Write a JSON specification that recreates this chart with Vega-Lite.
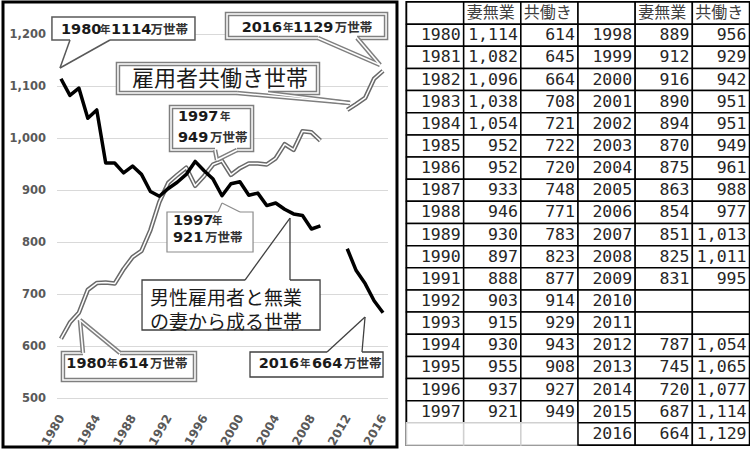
{
  "$schema": "https://vega.github.io/schema/vega-lite/v6.json",
  "padding": {"left": 1.5, "top": 0, "right": 0, "bottom": 0},
  "spacing": 6,
  "background": "white",
  "config": {
    "view": {"stroke": null}
  },
  "datasets": {
    "households": [
      {"year": 1980, "wife_home": 1114, "dual": 614},
      {"year": 1981, "wife_home": 1082, "dual": 645},
      {"year": 1982, "wife_home": 1096, "dual": 664},
      {"year": 1983, "wife_home": 1038, "dual": 708},
      {"year": 1984, "wife_home": 1054, "dual": 721},
      {"year": 1985, "wife_home": 952, "dual": 722},
      {"year": 1986, "wife_home": 952, "dual": 720},
      {"year": 1987, "wife_home": 933, "dual": 748},
      {"year": 1988, "wife_home": 946, "dual": 771},
      {"year": 1989, "wife_home": 930, "dual": 783},
      {"year": 1990, "wife_home": 897, "dual": 823},
      {"year": 1991, "wife_home": 888, "dual": 877},
      {"year": 1992, "wife_home": 903, "dual": 914},
      {"year": 1993, "wife_home": 915, "dual": 929},
      {"year": 1994, "wife_home": 930, "dual": 943},
      {"year": 1995, "wife_home": 955, "dual": 908},
      {"year": 1996, "wife_home": 937, "dual": 927},
      {"year": 1997, "wife_home": 921, "dual": 949},
      {"year": 1998, "wife_home": 889, "dual": 956},
      {"year": 1999, "wife_home": 912, "dual": 929},
      {"year": 2000, "wife_home": 916, "dual": 942},
      {"year": 2001, "wife_home": 890, "dual": 951},
      {"year": 2002, "wife_home": 894, "dual": 951},
      {"year": 2003, "wife_home": 870, "dual": 949},
      {"year": 2004, "wife_home": 875, "dual": 961},
      {"year": 2005, "wife_home": 863, "dual": 988},
      {"year": 2006, "wife_home": 854, "dual": 977},
      {"year": 2007, "wife_home": 851, "dual": 1013},
      {"year": 2008, "wife_home": 825, "dual": 1011},
      {"year": 2009, "wife_home": 831, "dual": 995},
      {"year": 2010, "wife_home": null, "dual": null},
      {"year": 2011, "wife_home": null, "dual": null},
      {"year": 2012, "wife_home": 787, "dual": 1054},
      {"year": 2013, "wife_home": 745, "dual": 1065},
      {"year": 2014, "wife_home": 720, "dual": 1077},
      {"year": 2015, "wife_home": 687, "dual": 1114},
      {"year": 2016, "wife_home": 664, "dual": 1129}
    ],
    "table": [
      {"r": 0, "c1": "", "c2": "妻無業", "c3": "共働き", "c4": "", "c5": "妻無業", "c6": "共働き"},
      {"r": 1, "c1": "1980", "c2": "1,114", "c3": "614", "c4": "1998", "c5": "889", "c6": "956"},
      {"r": 2, "c1": "1981", "c2": "1,082", "c3": "645", "c4": "1999", "c5": "912", "c6": "929"},
      {"r": 3, "c1": "1982", "c2": "1,096", "c3": "664", "c4": "2000", "c5": "916", "c6": "942"},
      {"r": 4, "c1": "1983", "c2": "1,038", "c3": "708", "c4": "2001", "c5": "890", "c6": "951"},
      {"r": 5, "c1": "1984", "c2": "1,054", "c3": "721", "c4": "2002", "c5": "894", "c6": "951"},
      {"r": 6, "c1": "1985", "c2": "952", "c3": "722", "c4": "2003", "c5": "870", "c6": "949"},
      {"r": 7, "c1": "1986", "c2": "952", "c3": "720", "c4": "2004", "c5": "875", "c6": "961"},
      {"r": 8, "c1": "1987", "c2": "933", "c3": "748", "c4": "2005", "c5": "863", "c6": "988"},
      {"r": 9, "c1": "1988", "c2": "946", "c3": "771", "c4": "2006", "c5": "854", "c6": "977"},
      {"r": 10, "c1": "1989", "c2": "930", "c3": "783", "c4": "2007", "c5": "851", "c6": "1,013"},
      {"r": 11, "c1": "1990", "c2": "897", "c3": "823", "c4": "2008", "c5": "825", "c6": "1,011"},
      {"r": 12, "c1": "1991", "c2": "888", "c3": "877", "c4": "2009", "c5": "831", "c6": "995"},
      {"r": 13, "c1": "1992", "c2": "903", "c3": "914", "c4": "2010", "c5": "", "c6": ""},
      {"r": 14, "c1": "1993", "c2": "915", "c3": "929", "c4": "2011", "c5": "", "c6": ""},
      {"r": 15, "c1": "1994", "c2": "930", "c3": "943", "c4": "2012", "c5": "787", "c6": "1,054"},
      {"r": 16, "c1": "1995", "c2": "955", "c3": "908", "c4": "2013", "c5": "745", "c6": "1,065"},
      {"r": 17, "c1": "1996", "c2": "937", "c3": "927", "c4": "2014", "c5": "720", "c6": "1,077"},
      {"r": 18, "c1": "1997", "c2": "921", "c3": "949", "c4": "2015", "c5": "687", "c6": "1,114"},
      {"r": 19, "c1": "", "c2": "", "c3": "", "c4": "2016", "c5": "664", "c6": "1,129"}
    ]
  },
  "hconcat": [
    {
      "width": 331,
      "height": 396,
      "resolve": {"axis": {"x": "independent", "y": "independent"}},
      "layer": [
        {
          "data": {"values": [{}]},
          "mark": {"type": "rect", "fill": "white", "fillOpacity": 0, "stroke": "black", "strokeWidth": 3},
          "encoding": {
            "x": {"datum": 1973.52, "type": "quantitative", "axis": null},
            "x2": {"datum": 2017.56},
            "y": {"datum": 1261.54, "type": "quantitative", "axis": null},
            "y2": {"datum": 405.77}
          }
        },
        {
          "data": {"name": "households"},
          "mark": {"type": "line", "stroke": "#6a6a6a", "strokeWidth": 4.5, "strokeJoin": "round", "invalid": "break-paths-show-domains"},
          "encoding": {
            "x": {"field": "year", "type": "quantitative", "scale": {"domain": [1979.5, 2016.5], "nice": false, "zero": false},
                  "axis": {"title": null, "values": [1980, 1984, 1988, 1992, 1996, 2000, 2004, 2008, 2012, 2016], "format": "d", "labelPadding": 17, "labelAngle": -60, "labelAlign": "right", "labelBaseline": "middle", "ticks": false, "tickSize": 0, "domain": false, "grid": false, "labelFont": "DejaVu Sans", "labelFontWeight": "bold", "labelColor": "#595959", "labelFontSize": 12, "labelFlush": false, "labelOverlap": false}},
            "y": {"field": "dual", "type": "quantitative", "scale": {"domain": [500, 1261.54], "nice": false, "zero": false},
                  "axis": {"title": null, "values": [500, 600, 700, 800, 900, 1000, 1100, 1200], "format": ",.0f", "labelPadding": 11, "ticks": false, "tickSize": 0, "domain": false, "grid": true, "gridColor": "#d9d9d9", "gridWidth": 1, "labelFont": "DejaVu Sans", "labelFontWeight": "bold", "labelColor": "#595959", "labelFontSize": 11.5, "labelOverlap": false}}
          }
        },
        {
          "data": {"name": "households"},
          "mark": {"type": "line", "stroke": "white", "strokeWidth": 1.5, "strokeJoin": "round", "invalid": "break-paths-show-domains"},
          "encoding": {"x": {"field": "year", "type": "quantitative", "axis": null}, "y": {"field": "dual", "type": "quantitative", "axis": null}}
        },
        {
          "data": {"name": "households"},
          "mark": {"type": "line", "stroke": "black", "strokeWidth": 3.5, "strokeJoin": "round", "invalid": "break-paths-show-domains"},
          "encoding": {"x": {"field": "year", "type": "quantitative", "axis": null}, "y": {"field": "wife_home", "type": "quantitative", "axis": null}}
        },
        {
          "data": {"values": [{}]},
          "layer": [
            {"mark": {"type": "rect", "fill": "white", "stroke": "#595959", "strokeWidth": 1.5}, "encoding": {"x": {"datum": 1978.99, "axis": null}, "x2": {"datum": 1994.98}, "y": {"datum": 1232.68, "axis": null}, "y2": {"datum": 1188.45}}},
            {"mark": {"type": "rule", "stroke": "white", "strokeWidth": 3}, "encoding": {"x": {"datum": 1981.01, "axis": null}, "x2": {"datum": 1985.48}, "y": {"datum": 1188.45, "axis": null}}},
            {"mark": {"type": "rule", "stroke": "#595959", "strokeWidth": 1.5}, "encoding": {"x": {"datum": 1981.01, "axis": null}, "y": {"datum": 1188.45, "axis": null}, "x2": {"datum": 1979.89}, "y2": {"datum": 1134.6}}},
            {"mark": {"type": "rule", "stroke": "#595959", "strokeWidth": 1.5}, "encoding": {"x": {"datum": 1985.48, "axis": null}, "y": {"datum": 1188.45, "axis": null}, "x2": {"datum": 1979.89}, "y2": {"datum": 1134.6}}},
            {"mark": {"type": "text", "align": "left", "baseline": "middle", "font": "DejaVu Sans", "fontWeight": "bold", "fontSize": 14.5, "color": "#1a1a1a", "text": "1980"}, "encoding": {"x": {"datum": 1980.0, "axis": null}, "y": {"datum": 1207.68, "axis": null}}},
            {"mark": {"type": "text", "align": "left", "baseline": "middle", "font": "Noto Sans CJK JP", "fontWeight": "bold", "fontSize": 10.5, "color": "#333333", "text": "年"}, "encoding": {"x": {"datum": 1984.36, "axis": null}, "y": {"datum": 1207.68, "axis": null}}},
            {"mark": {"type": "text", "align": "left", "baseline": "middle", "font": "DejaVu Sans", "fontWeight": "bold", "fontSize": 14.5, "color": "#1a1a1a", "text": "1114"}, "encoding": {"x": {"datum": 1985.59, "axis": null}, "y": {"datum": 1207.68, "axis": null}}},
            {"mark": {"type": "text", "align": "left", "baseline": "middle", "font": "Noto Sans CJK JP", "fontWeight": "bold", "fontSize": 12.5, "color": "#333333", "text": "万世帯"}, "encoding": {"x": {"datum": 1990.0, "axis": null}, "y": {"datum": 1207.68, "axis": null}}},

            {"mark": {"type": "rect", "fill": "white", "stroke": "#7f7f7f", "strokeWidth": 4.5}, "encoding": {"x": {"datum": 1998.56, "axis": null}, "x2": {"datum": 2016.34}, "y": {"datum": 1238.45, "axis": null}, "y2": {"datum": 1192.29}}},
            {"mark": {"type": "rect", "fill": "white", "fillOpacity": 0, "stroke": "white", "strokeWidth": 1.5}, "encoding": {"x": {"datum": 1998.56, "axis": null}, "x2": {"datum": 2016.34}, "y": {"datum": 1238.45, "axis": null}, "y2": {"datum": 1192.29}}},
            {"mark": {"type": "rule", "stroke": "white", "strokeWidth": 6}, "encoding": {"x": {"datum": 2008.73, "axis": null}, "x2": {"datum": 2013.1}, "y": {"datum": 1192.29, "axis": null}}},
            {"mark": {"type": "rule", "stroke": "#7f7f7f", "strokeWidth": 4.5}, "encoding": {"x": {"datum": 2008.73, "axis": null}, "y": {"datum": 1192.29, "axis": null}, "x2": {"datum": 2015.67}, "y2": {"datum": 1140.37}}},
            {"mark": {"type": "rule", "stroke": "#7f7f7f", "strokeWidth": 4.5}, "encoding": {"x": {"datum": 2013.1, "axis": null}, "y": {"datum": 1192.29, "axis": null}, "x2": {"datum": 2015.67}, "y2": {"datum": 1140.37}}},
            {"mark": {"type": "rule", "stroke": "white", "strokeWidth": 1.5}, "encoding": {"x": {"datum": 2008.73, "axis": null}, "y": {"datum": 1192.29, "axis": null}, "x2": {"datum": 2015.67}, "y2": {"datum": 1140.37}}},
            {"mark": {"type": "rule", "stroke": "white", "strokeWidth": 1.5}, "encoding": {"x": {"datum": 2013.1, "axis": null}, "y": {"datum": 1192.29, "axis": null}, "x2": {"datum": 2015.67}, "y2": {"datum": 1140.37}}},
            {"mark": {"type": "text", "align": "left", "baseline": "middle", "font": "DejaVu Sans", "fontWeight": "bold", "fontSize": 14.5, "color": "#1a1a1a", "text": "2016"}, "encoding": {"x": {"datum": 2000.2, "axis": null}, "y": {"datum": 1211.52, "axis": null}}},
            {"mark": {"type": "text", "align": "left", "baseline": "middle", "font": "Noto Sans CJK JP", "fontWeight": "bold", "fontSize": 10.5, "color": "#333333", "text": "年"}, "encoding": {"x": {"datum": 2004.82, "axis": null}, "y": {"datum": 1211.52, "axis": null}}},
            {"mark": {"type": "text", "align": "left", "baseline": "middle", "font": "DejaVu Sans", "fontWeight": "bold", "fontSize": 14.5, "color": "#1a1a1a", "text": "1129"}, "encoding": {"x": {"datum": 2005.94, "axis": null}, "y": {"datum": 1211.52, "axis": null}}},
            {"mark": {"type": "text", "align": "left", "baseline": "middle", "font": "Noto Sans CJK JP", "fontWeight": "bold", "fontSize": 12.5, "color": "#333333", "text": "万世帯"}, "encoding": {"x": {"datum": 2010.6, "axis": null}, "y": {"datum": 1211.52, "axis": null}}},

            {"mark": {"type": "rect", "fill": "white", "stroke": "#7f7f7f", "strokeWidth": 4.5}, "encoding": {"x": {"datum": 1986.37, "axis": null}, "x2": {"datum": 2008.73}, "y": {"datum": 1142.29, "axis": null}, "y2": {"datum": 1086.52}}},
            {"mark": {"type": "rect", "fill": "white", "fillOpacity": 0, "stroke": "white", "strokeWidth": 1.5}, "encoding": {"x": {"datum": 1986.37, "axis": null}, "x2": {"datum": 2008.73}, "y": {"datum": 1142.29, "axis": null}, "y2": {"datum": 1086.52}}},
            {"mark": {"type": "rule", "stroke": "white", "strokeWidth": 6}, "encoding": {"x": {"datum": 1999.68, "axis": null}, "x2": {"datum": 2003.14}, "y": {"datum": 1086.52, "axis": null}}},
            {"mark": {"type": "rule", "stroke": "#7f7f7f", "strokeWidth": 4.5}, "encoding": {"x": {"datum": 1999.68, "axis": null}, "y": {"datum": 1086.52, "axis": null}, "x2": {"datum": 2012.31}, "y2": {"datum": 1067.29}}},
            {"mark": {"type": "rule", "stroke": "#7f7f7f", "strokeWidth": 4.5}, "encoding": {"x": {"datum": 2003.14, "axis": null}, "y": {"datum": 1086.52, "axis": null}, "x2": {"datum": 2012.31}, "y2": {"datum": 1067.29}}},
            {"mark": {"type": "rule", "stroke": "white", "strokeWidth": 1.5}, "encoding": {"x": {"datum": 1999.68, "axis": null}, "y": {"datum": 1086.52, "axis": null}, "x2": {"datum": 2012.31}, "y2": {"datum": 1067.29}}},
            {"mark": {"type": "rule", "stroke": "white", "strokeWidth": 1.5}, "encoding": {"x": {"datum": 2003.14, "axis": null}, "y": {"datum": 1086.52, "axis": null}, "x2": {"datum": 2012.31}, "y2": {"datum": 1067.29}}},
            {"mark": {"type": "text", "align": "left", "baseline": "middle", "font": "Noto Sans CJK JP", "fontSize": 22, "color": "#1a1a1a", "text": "雇用者共働き世帯"}, "encoding": {"x": {"datum": 1987.94, "axis": null}, "y": {"datum": 1113.45, "axis": null}}},

            {"mark": {"type": "rect", "fill": "white", "stroke": "#7f7f7f", "strokeWidth": 4.5}, "encoding": {"x": {"datum": 1992.3, "axis": null}, "x2": {"datum": 2001.36}, "y": {"datum": 1059.6, "axis": null}, "y2": {"datum": 976.91}}},
            {"mark": {"type": "rect", "fill": "white", "fillOpacity": 0, "stroke": "white", "strokeWidth": 1.5}, "encoding": {"x": {"datum": 1992.3, "axis": null}, "x2": {"datum": 2001.36}, "y": {"datum": 1059.6, "axis": null}, "y2": {"datum": 976.91}}},
            {"mark": {"type": "rule", "stroke": "white", "strokeWidth": 6}, "encoding": {"x": {"datum": 1997.22, "axis": null}, "x2": {"datum": 1999.68}, "y": {"datum": 976.91, "axis": null}}},
            {"mark": {"type": "rule", "stroke": "#7f7f7f", "strokeWidth": 4.5}, "encoding": {"x": {"datum": 1997.22, "axis": null}, "y": {"datum": 976.91, "axis": null}, "x2": {"datum": 1997.44}, "y2": {"datum": 957.68}}},
            {"mark": {"type": "rule", "stroke": "#7f7f7f", "strokeWidth": 4.5}, "encoding": {"x": {"datum": 1999.68, "axis": null}, "y": {"datum": 976.91, "axis": null}, "x2": {"datum": 1997.44}, "y2": {"datum": 957.68}}},
            {"mark": {"type": "rule", "stroke": "white", "strokeWidth": 1.5}, "encoding": {"x": {"datum": 1997.22, "axis": null}, "y": {"datum": 976.91, "axis": null}, "x2": {"datum": 1997.44}, "y2": {"datum": 957.68}}},
            {"mark": {"type": "rule", "stroke": "white", "strokeWidth": 1.5}, "encoding": {"x": {"datum": 1999.68, "axis": null}, "y": {"datum": 976.91, "axis": null}, "x2": {"datum": 1997.44}, "y2": {"datum": 957.68}}},
            {"mark": {"type": "text", "align": "left", "baseline": "middle", "font": "DejaVu Sans", "fontWeight": "bold", "fontSize": 14.5, "color": "#1a1a1a", "text": "1997"}, "encoding": {"x": {"datum": 1993.08, "axis": null}, "y": {"datum": 1040.37, "axis": null}}},
            {"mark": {"type": "text", "align": "left", "baseline": "middle", "font": "Noto Sans CJK JP", "fontWeight": "bold", "fontSize": 10.5, "color": "#333333", "text": "年"}, "encoding": {"x": {"datum": 1997.78, "axis": null}, "y": {"datum": 1040.37, "axis": null}}},
            {"mark": {"type": "text", "align": "left", "baseline": "middle", "font": "DejaVu Sans", "fontWeight": "bold", "fontSize": 14.5, "color": "#1a1a1a", "text": "949"}, "encoding": {"x": {"datum": 1993.08, "axis": null}, "y": {"datum": 999.98, "axis": null}}},
            {"mark": {"type": "text", "align": "left", "baseline": "middle", "font": "Noto Sans CJK JP", "fontWeight": "bold", "fontSize": 12.5, "color": "#333333", "text": "万世帯"}, "encoding": {"x": {"datum": 1996.66, "axis": null}, "y": {"datum": 999.98, "axis": null}}},

            {"mark": {"type": "rect", "fill": "white", "stroke": "#8c8c8c", "strokeWidth": 1.2}, "encoding": {"x": {"datum": 1991.85, "axis": null}, "x2": {"datum": 2001.47}, "y": {"datum": 857.68, "axis": null}, "y2": {"datum": 780.75}}},
            {"mark": {"type": "rule", "stroke": "white", "strokeWidth": 3}, "encoding": {"x": {"datum": 1997.55, "axis": null}, "x2": {"datum": 2000.01}, "y": {"datum": 857.68, "axis": null}}},
            {"mark": {"type": "rule", "stroke": "#8c8c8c", "strokeWidth": 1.2}, "encoding": {"x": {"datum": 1997.55, "axis": null}, "y": {"datum": 857.68, "axis": null}, "x2": {"datum": 1998.0}, "y2": {"datum": 874.98}}},
            {"mark": {"type": "rule", "stroke": "#8c8c8c", "strokeWidth": 1.2}, "encoding": {"x": {"datum": 2000.01, "axis": null}, "y": {"datum": 857.68, "axis": null}, "x2": {"datum": 1998.0}, "y2": {"datum": 874.98}}},
            {"mark": {"type": "text", "align": "left", "baseline": "middle", "font": "DejaVu Sans", "fontWeight": "bold", "fontSize": 14.5, "color": "#1a1a1a", "text": "1997"}, "encoding": {"x": {"datum": 1992.52, "axis": null}, "y": {"datum": 840.37, "axis": null}}},
            {"mark": {"type": "text", "align": "left", "baseline": "middle", "font": "Noto Sans CJK JP", "fontWeight": "bold", "fontSize": 10.5, "color": "#333333", "text": "年"}, "encoding": {"x": {"datum": 1996.88, "axis": null}, "y": {"datum": 840.37, "axis": null}}},
            {"mark": {"type": "text", "align": "left", "baseline": "middle", "font": "DejaVu Sans", "fontWeight": "bold", "fontSize": 14.5, "color": "#1a1a1a", "text": "921"}, "encoding": {"x": {"datum": 1992.52, "axis": null}, "y": {"datum": 807.68, "axis": null}}},
            {"mark": {"type": "text", "align": "left", "baseline": "middle", "font": "Noto Sans CJK JP", "fontWeight": "bold", "fontSize": 12.5, "color": "#333333", "text": "万世帯"}, "encoding": {"x": {"datum": 1996.1, "axis": null}, "y": {"datum": 807.68, "axis": null}}},

            {"mark": {"type": "rect", "fill": "white", "stroke": "#404040", "strokeWidth": 1.3}, "encoding": {"x": {"datum": 1989.06, "axis": null}, "x2": {"datum": 2008.96}, "y": {"datum": 726.91, "axis": null}, "y2": {"datum": 630.75}}},
            {"mark": {"type": "rule", "stroke": "white", "strokeWidth": 3}, "encoding": {"x": {"datum": 2000.57, "axis": null}, "x2": {"datum": 2005.6}, "y": {"datum": 726.91, "axis": null}}},
            {"mark": {"type": "rule", "stroke": "#404040", "strokeWidth": 1.3}, "encoding": {"x": {"datum": 2000.57, "axis": null}, "y": {"datum": 726.91, "axis": null}, "x2": {"datum": 2005.6}, "y2": {"datum": 846.14}}},
            {"mark": {"type": "rule", "stroke": "#404040", "strokeWidth": 1.3}, "encoding": {"x": {"datum": 2005.6, "axis": null}, "y": {"datum": 726.91, "axis": null}, "x2": {"datum": 2005.6}, "y2": {"datum": 846.14}}},
            {"mark": {"type": "text", "align": "left", "baseline": "middle", "font": "Noto Sans CJK JP", "fontSize": 19, "color": "#1a1a1a", "text": "男性雇用者と無業"}, "encoding": {"x": {"datum": 1989.95, "axis": null}, "y": {"datum": 691.0, "axis": null}}},
            {"mark": {"type": "text", "align": "left", "baseline": "middle", "font": "Noto Sans CJK JP", "fontSize": 19, "color": "#1a1a1a", "text": "の妻から成る世帯"}, "encoding": {"x": {"datum": 1989.95, "axis": null}, "y": {"datum": 644.0, "axis": null}}},

            {"mark": {"type": "rect", "fill": "white", "stroke": "#7f7f7f", "strokeWidth": 4.5}, "encoding": {"x": {"datum": 1980.22, "axis": null}, "x2": {"datum": 1994.98}, "y": {"datum": 586.52, "axis": null}, "y2": {"datum": 534.6}}},
            {"mark": {"type": "rect", "fill": "white", "fillOpacity": 0, "stroke": "white", "strokeWidth": 1.5}, "encoding": {"x": {"datum": 1980.22, "axis": null}, "x2": {"datum": 1994.98}, "y": {"datum": 586.52, "axis": null}, "y2": {"datum": 534.6}}},
            {"mark": {"type": "rule", "stroke": "white", "strokeWidth": 6}, "encoding": {"x": {"datum": 1982.46, "axis": null}, "x2": {"datum": 1986.6}, "y": {"datum": 586.52, "axis": null}}},
            {"mark": {"type": "rule", "stroke": "#7f7f7f", "strokeWidth": 4.5}, "encoding": {"x": {"datum": 1982.46, "axis": null}, "y": {"datum": 586.52, "axis": null}, "x2": {"datum": 1982.12}, "y2": {"datum": 649.98}}},
            {"mark": {"type": "rule", "stroke": "#7f7f7f", "strokeWidth": 4.5}, "encoding": {"x": {"datum": 1986.6, "axis": null}, "y": {"datum": 586.52, "axis": null}, "x2": {"datum": 1982.12}, "y2": {"datum": 649.98}}},
            {"mark": {"type": "rule", "stroke": "white", "strokeWidth": 1.5}, "encoding": {"x": {"datum": 1982.46, "axis": null}, "y": {"datum": 586.52, "axis": null}, "x2": {"datum": 1982.12}, "y2": {"datum": 649.98}}},
            {"mark": {"type": "rule", "stroke": "white", "strokeWidth": 1.5}, "encoding": {"x": {"datum": 1986.6, "axis": null}, "y": {"datum": 586.52, "axis": null}, "x2": {"datum": 1982.12}, "y2": {"datum": 649.98}}},
            {"mark": {"type": "text", "align": "left", "baseline": "middle", "font": "DejaVu Sans", "fontWeight": "bold", "fontSize": 14.5, "color": "#1a1a1a", "text": "1980"}, "encoding": {"x": {"datum": 1980.6, "axis": null}, "y": {"datum": 564.5, "axis": null}}},
            {"mark": {"type": "text", "align": "left", "baseline": "middle", "font": "Noto Sans CJK JP", "fontWeight": "bold", "fontSize": 10.5, "color": "#333333", "text": "年"}, "encoding": {"x": {"datum": 1985.14, "axis": null}, "y": {"datum": 564.5, "axis": null}}},
            {"mark": {"type": "text", "align": "left", "baseline": "middle", "font": "DejaVu Sans", "fontWeight": "bold", "fontSize": 14.5, "color": "#1a1a1a", "text": "614"}, "encoding": {"x": {"datum": 1986.4, "axis": null}, "y": {"datum": 564.5, "axis": null}}},
            {"mark": {"type": "text", "align": "left", "baseline": "middle", "font": "Noto Sans CJK JP", "fontWeight": "bold", "fontSize": 12.5, "color": "#333333", "text": "万世帯"}, "encoding": {"x": {"datum": 1989.95, "axis": null}, "y": {"datum": 564.5, "axis": null}}},

            {"mark": {"type": "rect", "fill": "white", "stroke": "#404040", "strokeWidth": 1.3}, "encoding": {"x": {"datum": 2001.13, "axis": null}, "x2": {"datum": 2016.0}, "y": {"datum": 588.45, "axis": null}, "y2": {"datum": 540.37}}},
            {"mark": {"type": "rule", "stroke": "white", "strokeWidth": 3}, "encoding": {"x": {"datum": 2009.74, "axis": null}, "x2": {"datum": 2013.65}, "y": {"datum": 588.45, "axis": null}}},
            {"mark": {"type": "rule", "stroke": "#404040", "strokeWidth": 1.3}, "encoding": {"x": {"datum": 2009.74, "axis": null}, "y": {"datum": 588.45, "axis": null}, "x2": {"datum": 2013.99}, "y2": {"datum": 655.75}}},
            {"mark": {"type": "rule", "stroke": "#404040", "strokeWidth": 1.3}, "encoding": {"x": {"datum": 2013.65, "axis": null}, "y": {"datum": 588.45, "axis": null}, "x2": {"datum": 2013.99}, "y2": {"datum": 655.75}}},
            {"mark": {"type": "text", "align": "left", "baseline": "middle", "font": "DejaVu Sans", "fontWeight": "bold", "fontSize": 14.5, "color": "#1a1a1a", "text": "2016"}, "encoding": {"x": {"datum": 2002.1, "axis": null}, "y": {"datum": 565.5, "axis": null}}},
            {"mark": {"type": "text", "align": "left", "baseline": "middle", "font": "Noto Sans CJK JP", "fontWeight": "bold", "fontSize": 10.5, "color": "#333333", "text": "年"}, "encoding": {"x": {"datum": 2006.72, "axis": null}, "y": {"datum": 565.5, "axis": null}}},
            {"mark": {"type": "text", "align": "left", "baseline": "middle", "font": "DejaVu Sans", "fontWeight": "bold", "fontSize": 14.5, "color": "#1a1a1a", "text": "664"}, "encoding": {"x": {"datum": 2008.06, "axis": null}, "y": {"datum": 565.5, "axis": null}}},
            {"mark": {"type": "text", "align": "left", "baseline": "middle", "font": "Noto Sans CJK JP", "fontWeight": "bold", "fontSize": 12.5, "color": "#333333", "text": "万世帯"}, "encoding": {"x": {"datum": 2011.64, "axis": null}, "y": {"datum": 565.5, "axis": null}}}
          ]
        }
      ]
    },
    {
      "width": 343,
      "height": 443,
      "view": {"stroke": "black", "strokeWidth": 2},
      "data": {"name": "table"},
      "transform": [{"fold": ["c1", "c2", "c3", "c4", "c5", "c6"], "as": ["col", "text"]}],
      "encoding": {
        "x": {"field": "col", "type": "ordinal", "axis": null, "scale": {"paddingInner": 0, "paddingOuter": 0}},
        "y": {"field": "r", "type": "ordinal", "axis": null, "scale": {"paddingInner": 0, "paddingOuter": 0}}
      },
      "layer": [
        {
          "mark": {"type": "rect", "fill": "white", "strokeWidth": 1.5},
          "encoding": {"stroke": {"condition": {"test": "datum.r == 19 && (datum.col == 'c1' || datum.col == 'c2' || datum.col == 'c3')", "value": "#d0d0d0"}, "value": "black"}}
        },
        {
          "transform": [{"filter": {"field": "r", "equal": 0}}],
          "mark": {"type": "text", "align": "left", "baseline": "middle", "dx": 3, "font": "Noto Sans CJK JP", "fontSize": 16, "color": "#404040"},
          "encoding": {"x": {"field": "col", "type": "ordinal", "bandPosition": 0, "axis": null}, "text": {"field": "text"}}
        },
        {
          "transform": [{"filter": {"field": "r", "gt": 0}}],
          "mark": {"type": "text", "align": "right", "baseline": "middle", "dx": -3, "font": "DejaVu Sans Mono", "fontSize": 16.5, "color": "#262626"},
          "encoding": {"x": {"field": "col", "type": "ordinal", "bandPosition": 1, "axis": null}, "text": {"field": "text"}}
        }
      ]
    }
  ]
}
